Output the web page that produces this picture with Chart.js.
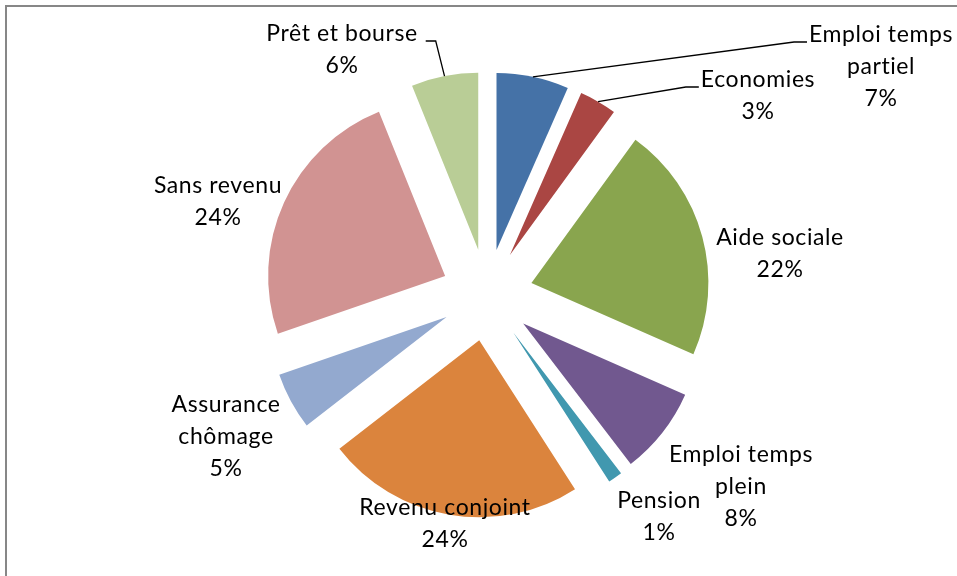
<!DOCTYPE html>
<html>
<head>
<meta charset="utf-8">
<script src="https://cdn.jsdelivr.net/npm/chart.js@4"></script>
<style>
  body { margin: 0; background: #fff; }
  #wrap { width: 957px; height: 576px; position: relative; }
</style>
</head>
<body>
<div id="wrap"><canvas id="myChart"></canvas></div>
<script>
// data (share of respondents, %)
const categories = ['Emploi temps partiel', 'Economies', 'Aide sociale', 'Emploi temps plein', 'Pension',
  'Revenu conjoint', 'Assurance chômage', 'Sans revenu', 'Prêt et bourse'];
const values = [6.6, 3.4, 21.6, 8.0, 1.3, 23.6, 5.2, 24.2, 6.1];
const colors = ['#4572A7', '#AA4643', '#89A54E', '#71588F', '#4198AF', '#DB843D', '#93A9CF', '#D19392', '#B9CD96'];

// label block centre, relative to the pie centre, and which ones get a leader line
const labelAt = [[394, -229], [271, -200], [293, -42], [254, 191], [172, 221], [-42, 228], [-261, 141], [-269, -94], [-145, -246]];
const leader = ['left', 'left', null, null, null, null, null, null, 'right'];

const EXPLODE = 46;
const FONT = '23px Lato';
const LINE_H = 32;

function wrap(ctx, text, maxW) {
  let words = text.split(' ');
  let lines = [];
  let cur = '';
  words.forEach(w => {
    let t = cur ? cur + ' ' + w : w;
    if (cur && ctx.measureText(t).width > maxW) {
      lines.push(cur);
      cur = w;
    } else {
      cur = t;
    }
  });
  lines.push(cur);
  return lines;
}

const explodePlugin = {
  id: 'explode',
  beforeDatasetDraw(chart, args) {
    const ctx = chart.ctx;
    args.meta.data.forEach(arc => {
      const mid = (arc.startAngle + arc.endAngle) / 2;
      ctx.save();
      ctx.translate(Math.cos(mid) * EXPLODE, Math.sin(mid) * EXPLODE);
      arc.draw(ctx);
      ctx.restore();
    });
    return false;
  }
};

const labelPlugin = {
  id: 'labels',
  afterDatasetsDraw(chart) {
    const ctx = chart.ctx;
    const arcs = chart.getDatasetMeta(0).data;
    const total = values.reduce((a, b) => a + b, 0);
    ctx.save();
    // frame (top and left edge only show in the picture)
    ctx.strokeStyle = '#878787';
    ctx.lineWidth = 2;
    ctx.beginPath();
    ctx.moveTo(6, 576);
    ctx.lineTo(6, 6);
    ctx.lineTo(957, 6);
    ctx.stroke();

    ctx.font = FONT;
    ctx.letterSpacing = '0.6px';
    ctx.fillStyle = '#000';
    ctx.textAlign = 'center';
    ctx.textBaseline = 'alphabetic';
    arcs.forEach((arc, i) => {
      const lines = wrap(ctx, categories[i], 188);
      lines.push(Math.round(values[i] / total * 100) + '%');
      const cx = arc.x + labelAt[i][0];
      const cy = arc.y + labelAt[i][1];
      const n = lines.length;
      lines.forEach((l, k) => {
        ctx.fillText(l, cx, cy + (k - (n - 1) / 2) * LINE_H + 8);
      });
      if (leader[i]) {
        const mid = (arc.startAngle + arc.endAngle) / 2;
        const r = EXPLODE + arc.outerRadius;
        const sx = arc.x + Math.cos(mid) * r;
        const sy = arc.y + Math.sin(mid) * r;
        const w = ctx.measureText(lines[0]).width;
        const ly = cy - (n - 1) / 2 * LINE_H + 8;
        let ex, bx;
        if (leader[i] == 'left') {
          ex = cx - w / 2 - 2;
          bx = ex - 13;
        } else {
          ex = cx + w / 2 + 8;
          bx = ex + 10;
        }
        ctx.strokeStyle = '#000';
        ctx.lineWidth = 1.3;
        ctx.beginPath();
        ctx.moveTo(sx, sy);
        ctx.lineTo(bx, ly);
        ctx.lineTo(ex, ly);
        ctx.stroke();
      }
    });
    ctx.restore();
  }
};

const ctx = document.getElementById('myChart');

new Chart(ctx, {
  type: 'pie',
  data: {
    labels: categories,
    datasets: [{
      data: values,
      backgroundColor: colors,
      borderWidth: 0
    }]
  },
  options: {
    responsive: true,
    maintainAspectRatio: false,
    animation: false,
    radius: 177,
    layout: { padding: { left: 17, top: 14, right: 0, bottom: 0 } },
    plugins: {
      legend: { display: false },
      tooltip: { enabled: false }
    }
  },
  plugins: [explodePlugin, labelPlugin]
});
</script>
</body>
</html>
